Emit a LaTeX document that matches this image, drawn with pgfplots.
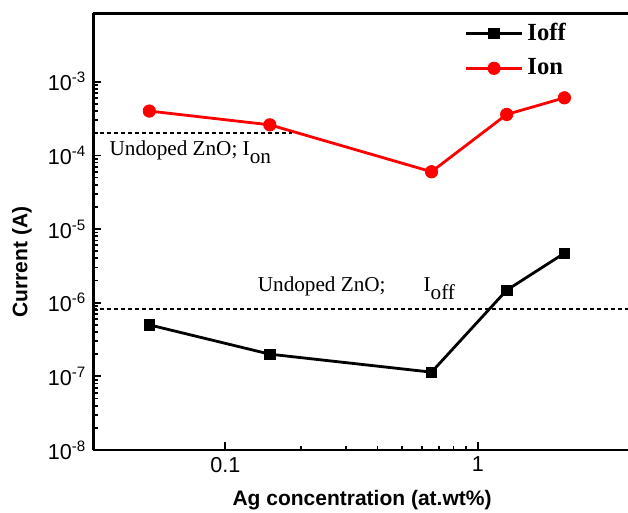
\documentclass[border=0pt]{standalone}
\usepackage{fontspec}
\setmainfont{Liberation Serif}
\setsansfont{Liberation Sans}
\usepackage{pgfplots}
\pgfplotsset{compat=1.18}
\begin{document}
\begin{tikzpicture}
\begin{axis}[
 scale only axis, width=268.35pt, height=218.35pt,
 xmode=log, ymode=log, xmin=0.03, xmax=4, ymin=1e-8, ymax=8.5e-3,
 axis x line*=bottom, axis y line*=left,
 axis line style={line width=1.3pt},
 tick align=inside,
 major tick length=4pt, minor tick length=2.2pt,
 every tick/.style={black, line width=0.9pt},
 xtick={0.1,1}, xticklabels={0.1,1},
 ytick={1e-8,1e-7,1e-6,1e-5,1e-4,1e-3},
 yticklabels={10\textsuperscript{-8},10\textsuperscript{-7},10\textsuperscript{-6},10\textsuperscript{-5},10\textsuperscript{-4},10\textsuperscript{-3}},
 tick label style={font=\sffamily\fontsize{10.8}{12}\selectfont},
 xlabel={Ag concentration (at.wt\%)},
 ylabel={Current (A)},
 label style={font=\sffamily\bfseries\fontsize{10.5}{12}\selectfont},
 xlabel style={at={(axis description cs:0.5007,-0.1145)},anchor=center},
 ylabel style={at={(axis description cs:-0.1329,0.4305)},anchor=center},
 legend style={draw=none, fill=none, at={(axis description cs:0.68,0.996)}, anchor=north west, font=\bfseries\fontsize{12.3}{14}\selectfont, row sep=3.5pt},
 legend image code/.code={\draw[mark repeat=2,mark phase=2] plot coordinates {(0pt,0pt) (14pt,0pt) (28pt,0pt)};},
 legend cell align=left,
 clip=false,
]
\coordinate (O) at (rel axis cs:0,0);
\draw[line width=1.3pt] (rel axis cs:0,1) -- (rel axis cs:1,1);
\addplot[black, line width=1.4pt, mark=square*, mark size=2.6pt, mark options={solid, line width=0.4pt}] coordinates {
 (0.05,5.0e-7) (0.15,2.0e-7) (0.655,1.14e-7) (1.3,1.48e-6) (2.2,4.7e-6)};
\addlegendentry{Ioff}
\addplot[red, line width=1.4pt, mark=*, mark size=3.1pt, mark options={solid, line width=0.4pt}] coordinates {
 (0.05,4.0e-4) (0.15,2.6e-4) (0.655,6.0e-5) (1.3,3.6e-4) (2.2,6.05e-4)};
\addlegendentry{Ion}
\addplot[black, line width=1pt, dash pattern=on 2pt off 1.5pt, forget plot] coordinates {(0.03,2.0e-4) (0.184,2.0e-4)};
\addplot[black, line width=1pt, dash pattern=on 2pt off 1.5pt, forget plot] coordinates {(0.03,8.1e-7) (4,8.1e-7)};
\node[anchor=base west, inner sep=0pt, font=\fontsize{10.6}{12}\selectfont] at (axis cs:0.0347,9.9e-5) {Undoped ZnO; I\raisebox{-4pt}{on}};
\node[anchor=base west, inner sep=0pt, font=\fontsize{10.6}{12}\selectfont] at (axis cs:0.134,1.44e-6) {Undoped ZnO;\hspace{19pt}I\raisebox{-4pt}{off}};
\end{axis}
\pgfresetboundingbox
\path (O) ++(-46.65pt,-31.5pt) rectangle ++(314pt,256.5pt);
\end{tikzpicture}
\end{document}
